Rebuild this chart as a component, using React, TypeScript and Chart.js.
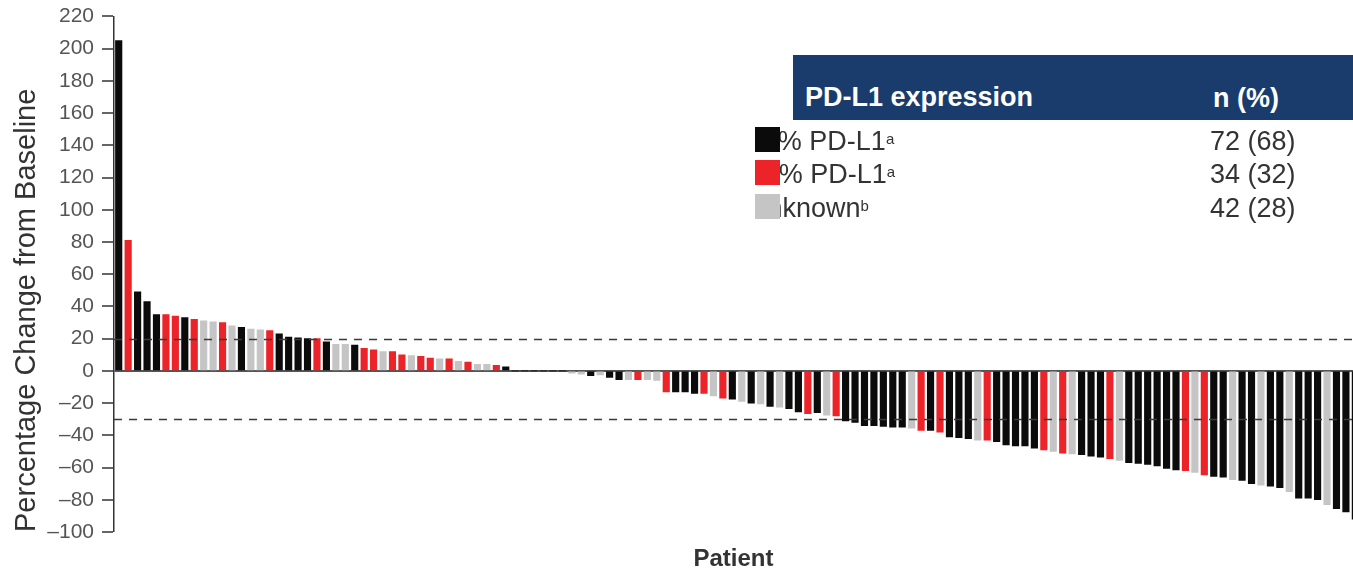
import React, { useEffect, useRef } from "react";
import { Chart, registerables } from "chart.js";

Chart.register(...registerables);

const FONT = '"Liberation Sans", Arial, Helvetica, sans-serif';

// Percentage change from baseline, one value per patient (waterfall order)
const changes: number[] = [
  205, 81, 49, 43, 35, 35, 34, 33, 32, 31,
  30.5, 30, 28, 27, 26, 25.5, 25, 23, 21, 20.5,
  20, 20, 18, 16.5, 16.5, 16, 14, 13, 12, 12,
  10, 9.5, 9, 8, 7.5, 7.5, 6, 5.5, 4, 4,
  3.5, 2.5, 0, 0, 0, 0, 0, 0, -1.5, -2,
  -3, -2.5, -4, -5.5, -5.5, -5.5, -5.5, -6, -13, -13,
  -13, -14, -14, -15.5, -17, -17.5, -19, -20, -20.5, -22,
  -22.5, -23.5, -25.5, -26.5, -26, -27.5, -28, -31, -32, -34,
  -34, -34.5, -35, -35, -35.5, -37, -37, -38, -41, -41.5,
  -42, -43, -43, -44, -46, -46.5, -46.5, -48, -49, -50,
  -51, -51.5, -52, -53, -53.5, -54.5, -55.5, -57, -57.5, -58,
  -59, -60.5, -61.5, -62, -63, -64.5, -65.5, -66, -67.5, -68,
  -70, -71, -71.5, -72.5, -75, -79, -79, -80, -83, -85.5,
  -87.5, -92,
];

// PD-L1 group per patient: P = >=1%, N = <1%, U = unknown
const pdl1Group: string[] = [
  "P", "N", "P", "P", "P", "N", "N", "P", "N", "U",
  "U", "N", "U", "P", "U", "U", "N", "P", "P", "P",
  "P", "N", "P", "U", "U", "P", "N", "N", "U", "N",
  "N", "U", "N", "N", "U", "N", "U", "N", "U", "U",
  "N", "P", "P", "P", "P", "P", "P", "P", "U", "U",
  "P", "U", "P", "P", "U", "N", "U", "U", "N", "P",
  "P", "P", "N", "U", "N", "P", "U", "P", "U", "P",
  "U", "P", "P", "N", "P", "U", "N", "P", "P", "P",
  "P", "P", "P", "P", "U", "N", "P", "N", "P", "P",
  "P", "U", "N", "P", "P", "P", "P", "P", "N", "U",
  "N", "U", "P", "P", "P", "N", "U", "P", "P", "P",
  "P", "P", "P", "N", "U", "N", "P", "P", "U", "P",
  "P", "U", "P", "P", "U", "P", "P", "P", "U", "P",
  "P", "P",
];

const groupColors: Record<string, string> = {
  P: "#0b0b0b",
  N: "#ec2328",
  U: "#c5c5c5",
};

const patientIds: number[] = changes.map((_, i) => i + 1);

const thresholdLines: number[] = [20, -30];

const yMin = -100;
const yMax = 220;
const yStep = 20;

const legendLabels: string[] = ["≥1% PD-L1", "<1% PD-L1", "Unknown"];
const legendSup: string[] = ["a", "a", "b"];
const legendCounts: string[] = ["72 (68)", "34 (32)", "42 (28)"];
const legendKeys: string[] = ["P", "N", "U"];

const thresholdPlugin = {
  id: "thresholds",
  afterDatasetsDraw(chart: any) {
    const { ctx, chartArea, scales } = chart;
    ctx.save();
    ctx.strokeStyle = "#3a3a3a";
    ctx.lineWidth = 1.5;
    ctx.setLineDash([8, 7]);
    thresholdLines.forEach((v) => {
      const y = Math.round(scales.y.getPixelForValue(v)) + 0.5;
      ctx.beginPath();
      ctx.moveTo(chartArea.left, y);
      ctx.lineTo(chartArea.right, y);
      ctx.stroke();
    });
    ctx.restore();
  },
};

export default function App() {
  const canvasRef = useRef<HTMLCanvasElement>(null);

  useEffect(() => {
    Chart.defaults.font.family = FONT;
    const chart = new Chart(canvasRef.current as HTMLCanvasElement, {
      type: "bar",
      data: {
        datasets: [
          {
            data: changes.map((v, i) => ({ x: patientIds[i], y: v })),
            backgroundColor: pdl1Group.map((g) => groupColors[g]),
            borderWidth: 0,
            barThickness: 6.5,
            clip: 0,
          } as any,
        ],
      },
      options: {
        animation: false,
        responsive: false,
        maintainAspectRatio: false,
        layout: { padding: { top: 16, right: 0, bottom: 0, left: 0 } },
        plugins: {
          legend: { display: false },
          tooltip: { enabled: false },
        },
        scales: {
          x: {
            type: "linear",
            offset: false,
            bounds: "ticks",
            grace: 0,
            min: 0.5,
            max: 131.75,
            ticks: { display: false, stepSize: 50 },
            grid: { display: false },
            border: { display: false },
            title: {
              display: true,
              text: "Patient",
              color: "#333",
              font: { family: FONT, size: 24, weight: "bold" },
              padding: 0,
            },
            afterFit: (s: any) => {
              s.height = 42;
            },
          },
          y: {
            min: yMin,
            max: yMax,
            ticks: {
              stepSize: yStep,
              color: "#555",
              font: { family: FONT, size: 21, lineHeight: 0.8 },
              padding: 8,
              callback: (v: any) => (Number(v) < 0 ? "–" + Math.abs(Number(v)) : String(v)),
            },
            grid: {
              color: (c: any) => (c.tick && c.tick.value === 0 ? "#555" : "rgba(0,0,0,0)"),
              lineWidth: (c: any) => (c.tick && c.tick.value === 0 ? 2 : 0),
              tickColor: "#333",
              tickWidth: 1.5,
              tickLength: 12,
              drawTicks: true,
            },
            border: { display: true, color: "#333", width: 1.5 },
            title: {
              display: true,
              text: "Percentage Change from Baseline",
              color: "#333",
              align: "start",
              font: { family: FONT, size: 29 },
              padding: { top: 10, bottom: 0 },
            },
            afterFit: (s: any) => {
              s.width = 114;
            },
          },
        },
      } as any,
      plugins: [thresholdPlugin],
    });
    return () => chart.destroy();
  }, []);

  const rowTops = [126, 159, 193];

  return (
    <div
      style={{
        position: "absolute",
        left: 0,
        top: 0,
        width: 1353,
        height: 574,
        overflow: "hidden",
        background: "#fff",
        fontFamily: FONT,
      }}
    >
      <canvas ref={canvasRef} width={1353} height={574} style={{ display: "block" }} />
      <div
        style={{
          position: "absolute",
          left: 793,
          top: 55,
          width: 560,
          height: 65,
          background: "#1a3c6c",
          color: "#fff",
          fontWeight: "bold",
          fontSize: 27,
          lineHeight: "30px",
        }}
      >
        <span style={{ position: "absolute", left: 12, top: 27, whiteSpace: "nowrap" }}>PD-L1 expression</span>
        <span style={{ position: "absolute", left: 420, top: 28, whiteSpace: "nowrap" }}>n (%)</span>
      </div>
      <div
        style={{
          position: "absolute",
          left: 755,
          top: 120,
          width: 598,
          height: 110,
          overflow: "hidden",
          color: "#333",
          fontSize: 27,
          lineHeight: "30px",
        }}
      >
        {legendLabels.map((lab, i) => (
          <React.Fragment key={lab}>
            <span
              style={{
                position: "absolute",
                left: -7,
                top: rowTops[i] - 120,
                whiteSpace: "nowrap",
              }}
            >
              {lab}
              <sup style={{ fontSize: 15, verticalAlign: "top", position: "relative", top: -2 }}>{legendSup[i]}</sup>
            </span>
            <div
              style={{
                position: "absolute",
                left: 0,
                top: rowTops[i] - 120 + 1,
                width: 25,
                height: 25,
                background: groupColors[legendKeys[i]],
              }}
            />
            <span
              style={{
                position: "absolute",
                left: 1210 - 755,
                top: rowTops[i] - 120,
                whiteSpace: "nowrap",
              }}
            >
              {legendCounts[i]}
            </span>
          </React.Fragment>
        ))}
      </div>
    </div>
  );
}
